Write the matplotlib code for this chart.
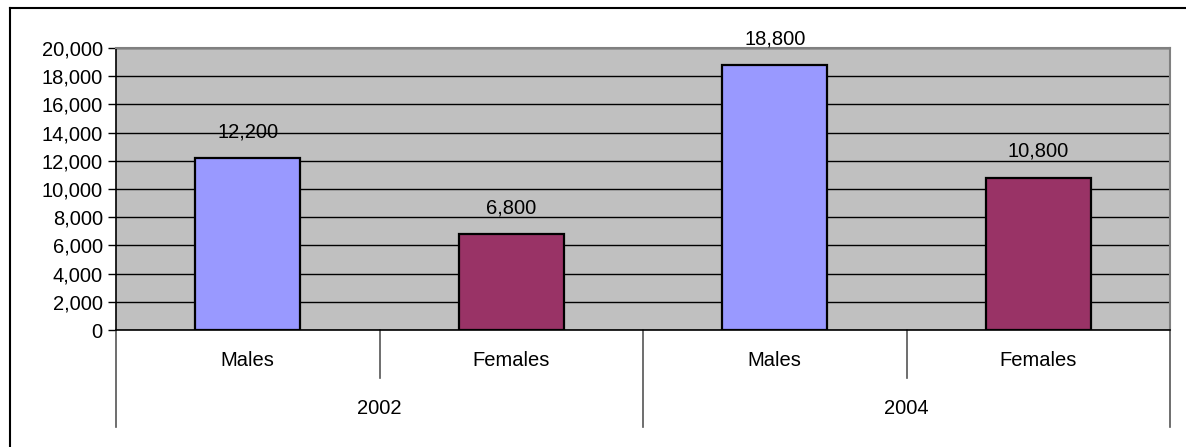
import matplotlib
matplotlib.use("Agg")
import matplotlib.pyplot as plt
from matplotlib.lines import Line2D
from matplotlib.transforms import blended_transform_factory

# Data
years = ["2002", "2004"]
sexes = ["Males", "Females"]
values = [12200, 6800, 18800, 10800]
bar_colors = ["#9999FF", "#993366", "#9999FF", "#993366"]
yticks = list(range(0, 20001, 2000))

plt.rcParams["font.family"] = ["Liberation Sans", "DejaVu Sans"]
FS = 14.5

W, H = 1186, 447
fig = plt.figure(figsize=(W / 100, H / 100), dpi=100)
fig.patch.set_facecolor("white")

L, R, T, B = 116, 1170, 48, 330
ax = fig.add_axes([L / W, 1 - B / H, (R - L) / W, (B - T) / H])
ax.set_facecolor("#C0C0C0")

x = list(range(len(values)))
ax.set_axisbelow(True)
ax.yaxis.grid(True, color="black", linewidth=1.0)
ax.bar(x, values, width=0.4, color=bar_colors, edgecolor="black", linewidth=1.6, zorder=3)

for xi, v in zip(x, values):
    ax.annotate(f"{v:,}", (xi, v), xytext=(0, 19), textcoords="offset points",
                ha="center", va="center", fontsize=FS, color="black")

ax.set_xlim(-0.5, len(values) - 0.5)
ax.set_ylim(0, 20000)
ax.set_yticks(yticks)
ax.set_yticklabels([f"{t:,}" for t in yticks], fontsize=FS)
ax.tick_params(axis="y", length=6, width=1, color="black", pad=3.5)
ax.set_xticks([])

for s in ["top", "right"]:
    ax.spines[s].set_color("#808080")
    ax.spines[s].set_linewidth(1.5)
ax.spines["left"].set_color("black")
ax.spines["left"].set_linewidth(1.2)
ax.spines["bottom"].set_color("black")
ax.spines["bottom"].set_linewidth(1.2)

# Two-level category axis
trans = blended_transform_factory(ax.transData, ax.transAxes)
h = B - T
inner = -48 / h
outer = -97 / h
for bx in [-0.5, 1.5, 3.5]:
    ax.add_line(Line2D([bx, bx], [0, outer], transform=trans, color="#555555",
                       linewidth=1.2, clip_on=False))
for bx in [0.5, 2.5]:
    ax.add_line(Line2D([bx, bx], [0, inner], transform=trans, color="#555555",
                       linewidth=1.2, clip_on=False))
for i, v in enumerate(values):
    ax.text(i, -31 / h, sexes[i % 2], transform=trans, ha="center", va="center", fontsize=FS)
for j, yr in enumerate(years):
    ax.text(2 * j + 0.5, -78 / h, yr, transform=trans, ha="center", va="center", fontsize=FS)

# Chart frame
fig.add_artist(Line2D([9.5 / W, 1.0], [1 - 8 / H, 1 - 8 / H], transform=fig.transFigure,
                      color="black", linewidth=1.5))
fig.add_artist(Line2D([9.5 / W, 9.5 / W], [1 - 8 / H, 0], transform=fig.transFigure,
                      color="black", linewidth=1.5))

fig.savefig("out.png", dpi=100, facecolor="white")
